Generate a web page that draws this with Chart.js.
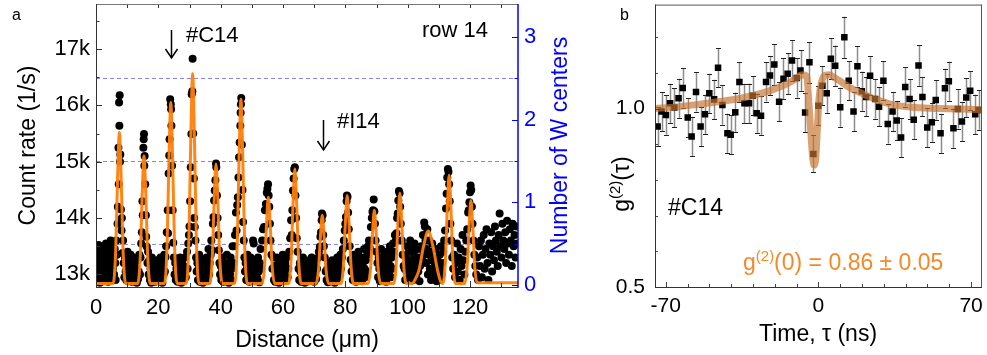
<!DOCTYPE html>
<html><head><meta charset="utf-8">
<script src="https://cdn.jsdelivr.net/npm/chart.js@4"></script>
<style>
html,body{margin:0;padding:0;background:#fff;}
#wrap{position:relative;width:987px;height:355px;overflow:hidden;background:#fff;}
canvas{position:absolute;top:0;}
#ca{left:0;} #cb{left:600px;}
</style></head><body>
<div id="wrap"><canvas id="ca" width="600" height="355"></canvas><canvas id="cb" width="387" height="355"></canvas></div>
<script>
// ---------- Panel a data ----------
const distTicks = [0,10,20,30,40,50,60,70,80,90,100,110,120,130];
const distLabels = [0,20,40,60,80,100,120];
const countTicks = [13,13.5,14,14.5,15,15.5,16,16.5,17,17.5];   // in k (1/s)
const wTicks = [0,0.5,1,1.5,2,2.5,3];
const thresholdLevels = [0.5,1.5,2.5];
const markC14 = 24.0, markI14 = 72.7;

// measured scan: [distance µm, count rate k/s]
const scan = [
[0.2,13.45],[0.3,13.1],[0.5,12.9],[0.6,13.3],[0.8,13.52],[0.9,13.0],[1.1,13.2],[1.2,12.85],[1.4,13.4],[1.5,13.05],[1.7,13.25],[1.8,13.5],[2.0,12.95],[2.1,13.15],[2.3,13.35],[2.4,12.88],[2.6,13.1],[2.7,13.45],[2.9,13.0],[3.0,13.25],[3.2,13.55],[3.3,12.9],[3.5,13.15],[3.6,13.4],[3.8,13.05],[3.9,12.87],[4.1,13.3],[4.2,13.5],[4.4,13.1],[4.5,12.95],[4.7,13.6],[4.8,13.2],[5.0,13.4],[5.1,12.9],[5.3,13.55],[5.4,13.1],[5.6,13.3],[5.8,13.0],[6.0,13.45],[6.2,13.2],[6.3,12.9],
[6.5,13.6],[6.7,13.35],[6.9,13.9],[7.0,14.2],[7.2,15.25],[7.3,14.6],[7.4,16.05],[7.5,15.64],[7.6,16.18],[7.7,15.0],[7.8,15.13],[8.0,14.15],[8.2,13.78],[8.3,14.0],[8.5,13.38],[8.7,13.6],[8.9,13.2],[9.1,12.95],[9.3,13.3],[9.5,13.05],
[9.7,12.9],[9.9,13.15],[10.1,13.4],[10.3,12.88],[10.5,13.1],[10.7,13.25],[10.9,12.95],[11.1,13.35],[11.3,13.05],[11.5,12.87],[11.7,13.2],[11.9,13.0],[12.1,13.3],[12.3,12.9],[12.5,13.15],[12.7,12.95],[12.9,13.1],[13.1,12.85],[13.3,13.25],[13.5,12.92],[13.7,13.05],[13.9,13.35],[14.1,13.0],
[14.3,13.3],[14.5,13.55],[14.7,13.75],[14.9,14.3],[15.0,14.05],[15.2,15.25],[15.3,15.4],[15.4,15.49],[15.5,14.93],[15.6,15.1],[15.8,14.6],[16.0,14.05],[16.1,13.67],[16.3,13.49],[16.5,13.2],[16.7,13.4],[16.9,13.0],
[17.1,13.25],[17.3,12.9],[17.5,13.1],[17.7,12.85],[17.9,13.3],[18.1,13.0],[18.3,12.92],[18.5,13.2],[18.7,13.05],[18.9,12.87],[19.1,13.15],[19.3,12.95],[19.5,13.25],[19.7,12.9],[19.9,13.1],[20.1,12.88],[20.3,13.2],[20.5,13.0],[20.7,13.3],[20.9,12.95],[21.1,13.1],[21.3,12.85],[21.5,13.2],[21.7,13.0],[21.9,13.35],
[22.1,13.05],[22.3,13.31],[22.5,13.5],[22.7,13.75],[23.0,14.14],[23.1,13.73],[23.3,14.79],[23.5,15.11],[23.6,15.4],[23.8,16.11],[24.0,16.02],[24.1,15.93],[24.2,15.64],[24.4,14.93],[24.6,14.14],[24.8,13.56],[25.0,13.3],[25.2,13.0],[25.4,13.2],
[25.6,12.9],[25.8,13.1],[26.0,13.25],[26.2,12.87],[26.4,13.05],[26.6,13.15],[26.8,12.93],[27.0,13.3],[27.2,13.0],[27.4,12.85],[27.6,13.2],[27.8,13.05],[28.0,12.9],[28.2,13.15],[28.4,13.0],[28.6,13.3],[28.8,12.95],[29.0,13.1],[29.2,13.4],
[29.4,13.1],[29.6,13.55],[29.8,13.7],[30.0,13.85],[30.2,14.3],[30.4,14.9],[30.6,15.49],[30.7,16.2],[30.9,16.25],[31.0,16.83],[31.2,15.5],[31.4,14.7],[31.5,14.0],[31.7,13.84],[31.9,13.6],[32.1,13.3],[32.3,13.05],
[32.5,13.2],[32.7,12.9],[32.9,13.1],[33.1,13.35],[33.3,12.87],[33.5,13.0],[33.7,13.2],[33.9,12.95],[34.1,13.1],[34.3,12.85],[34.5,13.25],[34.7,13.05],[34.9,12.9],[35.1,13.15],[35.3,13.0],[35.5,13.3],[35.7,12.88],[35.9,13.1],[36.1,13.45],[36.3,13.0],[36.5,13.2],
[36.8,13.35],[37.0,13.6],[37.3,13.43],[37.5,13.9],[37.7,14.02],[37.9,14.31],[38.1,14.49],[38.3,14.67],[38.5,14.97],[38.6,14.9],[38.8,14.4],[39.0,14.0],[39.2,13.7],[39.4,13.43],[39.6,13.2],[39.8,13.0],
[40.0,13.15],[40.2,12.9],[40.4,13.05],[40.6,13.3],[40.8,12.87],[41.0,13.1],[41.2,13.0],[41.4,13.2],[41.6,12.92],[41.8,13.1],[42.0,13.35],[42.2,12.95],[42.4,13.05],[42.6,12.85],[42.8,13.2],[43.0,13.0],[43.2,13.3],[43.4,12.9],[43.6,13.1],[43.8,13.5],[44.0,13.2],
[44.3,13.5],[44.6,13.7],[44.9,14.1],[45.1,13.78],[45.3,14.23],[45.5,14.37],[45.7,14.72],[45.9,15.08],[46.1,15.34],[46.3,15.64],[46.4,15.87],[46.5,16.02],[46.6,16.13],[46.8,15.3],[47.0,14.5],[47.2,13.93],[47.4,13.6],[47.6,13.3],[47.8,13.05],
[48.0,13.2],[48.2,12.9],[48.4,13.1],[48.6,13.35],[48.8,12.95],[49.0,13.15],[49.2,12.87],[49.4,13.05],[49.6,13.3],[49.8,13.0],[50.0,12.9],[50.2,13.2],[50.4,13.6],[50.6,13.55],[50.8,13.1],[51.0,12.88],[51.2,13.25],[51.4,13.0],[51.6,13.15],[51.8,12.93],[52.0,13.3],[52.2,13.05],[52.4,12.86],[52.6,13.2],[52.8,13.45],
[53.0,13.1],[53.3,13.6],[53.6,13.8],[53.9,13.84],[54.2,14.14],[54.5,14.25],[54.8,14.45],[55.0,14.52],[55.2,14.6],[55.4,14.4],[55.6,14.2],[55.8,13.9],[56.0,13.6],[56.3,13.35],[56.6,13.1],
[56.9,13.3],[57.1,12.9],[57.3,13.15],[57.5,12.87],[57.7,13.05],[57.9,13.3],[58.1,12.95],[58.3,13.1],[58.5,13.2],[58.7,12.85],[58.9,13.05],[59.1,13.25],[59.3,12.9],[59.5,13.1],[59.7,13.0],[59.9,13.35],[60.1,12.88],[60.3,13.15],[60.5,13.0],[60.7,13.2],[60.9,12.92],[61.1,13.1],[61.3,13.3],[61.5,12.95],[61.7,13.1],
[62.0,13.4],[62.3,13.64],[62.6,13.96],[62.8,13.7],[63.0,14.14],[63.2,14.49],[63.4,14.7],[63.6,14.87],[63.8,14.9],[64.0,14.4],[64.2,14.0],[64.4,13.64],[64.7,13.4],[65.0,13.1],
[65.2,12.9],[65.4,13.2],[65.6,13.05],[65.8,12.87],[66.0,13.15],[66.2,13.0],[66.4,13.3],[66.6,12.92],[66.8,13.1],[67.0,12.85],[67.2,13.2],[67.4,13.05],[67.6,12.9],[67.8,13.15],[68.0,13.0],[68.2,12.88],[68.4,13.25],[68.6,13.05],[68.8,12.9],[69.0,13.1],[69.2,13.3],[69.4,12.95],[69.6,13.15],[69.8,13.0],[70.0,12.87],[70.2,13.2],[70.4,13.05],[70.6,12.92],
[70.9,13.1],[71.2,13.29],[71.5,13.4],[71.8,13.49],[72.0,13.67],[72.2,13.75],[72.4,13.96],[72.5,14.08],[72.7,14.05],[72.9,13.7],[73.1,13.5],[73.4,13.3],[73.7,13.05],
[74.0,12.9],[74.2,13.1],[74.4,12.86],[74.6,13.2],[74.8,13.0],[75.0,12.92],[75.2,13.15],[75.4,12.88],[75.6,13.05],[75.8,13.25],[76.0,12.9],[76.2,13.1],[76.4,13.0],[76.6,12.85],[76.8,13.2],[77.0,13.05],[77.2,12.9],[77.4,13.3],[77.6,13.1],[77.8,12.95],[78.0,13.2],[78.2,13.0],[78.4,13.35],[78.6,13.1],
[78.9,13.3],[79.2,13.45],[79.5,13.6],[79.8,13.78],[80.0,13.9],[80.2,14.02],[80.4,14.3],[80.5,14.4],[80.7,14.38],[80.9,14.1],[81.1,13.8],[81.4,13.5],[81.7,13.26],[82.0,13.05],
[82.2,13.2],[82.4,12.9],[82.6,13.1],[82.8,13.35],[83.0,12.95],[83.2,13.15],[83.4,12.87],[83.6,13.05],[83.8,13.25],[84.0,13.0],[84.2,13.4],[84.4,13.15],[84.6,12.9],[84.8,13.1],[85.0,13.3],[85.2,13.0],[85.4,12.88],[85.6,13.2],[85.8,13.05],[86.0,13.45],[86.2,13.1],[86.4,12.95],[86.6,13.25],[86.8,13.05],[87.0,13.35],
[87.3,13.5],[87.6,13.6],[87.9,13.46],[88.2,13.84],[88.5,14.0],[88.7,14.11],[88.9,14.14],[89.1,14.33],[89.3,14.12],[89.5,13.9],[89.7,13.6],[90.0,13.4],[90.3,13.2],
[90.5,12.95],[90.7,13.3],[90.9,13.1],[91.1,12.88],[91.3,13.2],[91.5,13.45],[91.7,13.05],[91.9,13.3],[92.1,12.92],[92.3,13.15],[92.5,13.35],[92.7,13.0],[92.9,13.2],[93.1,12.87],[93.3,13.1],[93.5,13.4],[93.7,13.05],[93.9,13.25],[94.1,13.0],[94.3,13.5],[94.5,13.15],[94.7,12.95],[94.9,13.3],[95.1,13.1],[95.3,13.55],
[95.6,13.4],[95.9,13.7],[96.2,13.6],[96.4,13.73],[96.6,14.0],[96.8,14.08],[97.0,14.31],[97.2,14.48],[97.4,14.44],[97.6,14.2],[97.8,13.9],[98.1,13.6],[98.4,13.35],[98.7,13.15],
[99.0,13.1],[99.2,12.9],[99.4,13.3],[99.6,13.05],[99.8,13.5],[100.0,13.2],[100.2,12.95],[100.4,13.4],[100.6,13.1],[100.8,13.6],[101.0,13.25],[101.2,13.0],[101.4,13.45],[101.6,13.15],[101.8,12.9],[102.0,13.35],[102.2,13.55],[102.4,13.1],[102.6,13.3],[102.8,12.95],[103.0,13.2],[103.2,13.45],[103.4,13.05],[103.6,13.3],[103.8,12.88],[104.0,13.15],
[104.3,13.5],[104.6,13.3],[104.9,13.7],[105.1,13.4],[105.3,13.92],[105.5,13.85],[105.7,13.6],[105.9,13.2],[106.1,13.45],[106.3,13.8],[106.5,13.0],[106.7,13.35],[106.9,13.6],[107.1,13.1],[107.3,13.4],[107.5,12.9],[107.7,13.25],[107.9,13.55],[108.1,13.05],[108.3,13.3],[108.5,12.95],[108.7,13.2],[108.9,13.45],[109.1,13.1],[109.3,12.88],[109.5,13.3],[109.7,13.05],[109.9,13.2],[110.1,12.9],[110.3,13.35],[110.5,13.1],[110.7,13.5],[110.9,13.0],[111.1,13.2],
[111.4,13.4],[111.7,13.6],[112.0,13.78],[112.3,14.17],[112.5,14.43],[112.7,14.72],[112.9,14.87],[113.1,14.82],[113.3,14.6],[113.5,14.3],[113.7,13.9],[114.0,13.6],[114.3,13.3],[114.6,13.1],
[114.9,13.35],[115.2,12.95],[115.5,13.2],[115.8,13.55],[116.1,13.05],[116.4,13.3],[116.7,12.9],[117.0,13.45],[117.3,13.15],[117.6,13.7],[117.9,13.25],[118.2,13.0],[118.5,13.4],
[118.8,13.6],[119.1,13.8],[119.4,14.1],[119.6,14.14],[119.8,14.28],[120.0,14.46],[120.2,14.58],[120.4,14.5],[120.6,14.2],[120.8,13.9],[121.1,13.6],[121.4,13.35],[121.7,13.15],
[122.0,13.0],[122.3,13.3],[122.6,12.9],[122.9,13.5],[123.2,13.15],[123.5,13.6],[123.8,12.95],[124.1,13.35],[124.4,13.7],[124.7,13.1],[125.0,13.45],[125.3,13.8],[125.6,13.2],[125.9,12.9],[126.2,13.55],[126.5,13.35],[126.8,13.75],[127.1,13.05],[127.4,13.5],[127.7,13.25],[128.0,13.85],[128.3,13.6],[128.6,13.4],[128.9,13.15],[129.2,13.7],[129.5,14.08],[129.8,13.5],[130.1,13.3],[130.4,13.9],[130.7,13.6],[131.0,13.45],[131.3,13.75],[131.6,13.2],[131.9,13.95],[132.2,13.55],[132.5,13.35],[132.8,13.8],[133.1,13.6],[133.4,13.15],[133.7,13.9],[134.0,13.5],[134.3,13.7],[134.6,13.3],[134.9,13.85],[135.2,13.55]
];

// fitted profile: [distance µm, count rate k/s]
const fitA = [
[0,12.84],[5.5,12.84],[6.3,13.40],[6.9,14.66],[7.5,15.52],[8.1,14.66],[8.7,13.40],[9.5,12.84],
[13.4,12.84],[14.2,13.31],[14.8,14.38],[15.4,15.10],[16.0,14.38],[16.6,13.31],[17.4,12.84],
[22.0,12.84],[22.8,13.51],[23.4,15.02],[24.0,16.05],[24.6,15.02],[25.2,13.51],[26.0,12.84],
[29.0,12.84],[29.8,13.62],[30.4,15.37],[31.0,16.56],[31.6,15.37],[32.2,13.62],[33.0,12.84],
[36.5,12.84],[37.3,13.29],[37.9,14.28],[38.5,14.96],[39.1,14.28],[39.7,13.29],[40.5,12.84],
[44.5,12.84],[45.3,13.53],[45.9,15.06],[46.5,16.11],[47.1,15.06],[47.7,13.53],[48.5,12.84],
[53.3,12.84],[54.1,13.16],[54.7,13.88],[55.3,14.37],[55.9,13.88],[56.5,13.16],[57.3,12.84],
[61.8,12.84],[62.6,13.27],[63.2,14.22],[63.8,14.87],[64.4,14.22],[65.0,13.27],[65.8,12.84],
[70.6,12.84],[71.4,13.09],[72.0,13.66],[72.6,14.05],[73.2,13.66],[73.8,13.09],[74.6,12.84],
[78.6,12.84],[79.4,13.17],[80.0,13.90],[80.6,14.40],[81.2,13.90],[81.8,13.17],[82.6,12.84],
[87.3,12.84],[88.1,13.11],[88.7,13.72],[89.3,14.14],[89.9,13.72],[90.5,13.11],[91.3,12.84],
[95.5,12.84],[96.3,13.18],[96.9,13.93],[97.5,14.44],[98.1,13.93],[98.7,13.18],[99.5,12.84],
[101.6,12.84],[102.1,12.88],[103.6,13.07],[105.1,13.50],[106.6,13.77],[108.1,13.50],[109.6,13.07],[110.6,12.87],
[111.3,12.84],[112.1,13.24],[112.7,14.15],[113.3,14.76],[113.9,14.15],[114.5,13.24],[115.3,12.84],
[118.3,12.84],[119.1,13.15],[119.7,13.84],[120.3,14.31],[120.9,13.84],[121.5,13.15],[122.3,12.85],[135.4,12.85]
];

// ---------- Panel b data ----------
const tauTicks = [-70,-60,-50,-40,-30,-20,-10,0,10,20,30,40,50,60,70];
const tauLabels = [-70,0,70];
const gTicks = [0.5,0.6,0.7,0.8,0.9,1.0,1.1,1.2];
const gLabels = [0.5,1.0];
const tauB = [-73.7,-71.9,-69.9,-68.0,-66.0,-64.1,-62.2,-59.9,-58.1,-56.1,-54.0,-52.0,-50.0,-47.8,-46.0,-44.0,-41.7,-40.2,-38.1,-36.2,-33.9,-31.8,-30.1,-28.3,-26.3,-24.0,-22.2,-20.2,-18.0,-16.0,-14.1,-12.1,-9.9,-8.2,-6.1,-4.1,-2.3,0.0,1.85,3.8,5.7,7.7,10.0,11.9,13.9,16.1,17.9,19.9,21.9,23.7,26.0,27.8,29.8,31.8,34.0,35.9,37.9,39.8,41.8,43.7,45.9,47.7,49.9,52.0,53.8,56.0,58.0,59.8,61.9,63.9,65.8,67.8,69.6,71.9,73.4];
const g2B = [0.950,0.992,0.982,1.015,1.003,1.029,1.058,0.975,0.922,1.047,0.950,0.984,1.043,1.026,1.115,1.010,0.931,0.927,0.990,1.075,1.015,1.015,1.036,0.987,0.980,1.075,1.093,1.124,1.019,1.084,1.098,1.135,1.086,1.107,0.989,1.130,0.873,1.008,1.064,1.043,1.140,1.120,1.004,1.200,1.078,0.992,1.119,1.049,1.033,1.092,1.027,1.005,1.078,0.957,0.992,0.967,0.919,1.061,1.027,0.969,1.121,1.033,0.947,0.962,1.024,0.931,1.057,1.077,0.945,0.999,0.964,1.031,1.050,0.984,0.996];
const errB = [0.055,0.055,0.055,0.055,0.055,0.055,0.055,0.055,0.055,0.055,0.055,0.055,0.055,0.055,0.055,0.055,0.055,0.055,0.055,0.055,0.055,0.055,0.055,0.055,0.055,0.055,0.055,0.057,0.055,0.057,0.057,0.057,0.055,0.057,0.055,0.057,0.052,0.055,0.055,0.055,0.057,0.057,0.055,0.058,0.055,0.055,0.057,0.055,0.055,0.055,0.055,0.055,0.055,0.055,0.055,0.055,0.055,0.055,0.055,0.055,0.057,0.055,0.055,0.055,0.055,0.055,0.055,0.055,0.055,0.055,0.055,0.055,0.055,0.055,0.055];
const fitTau = [-75,-65,-55,-45,-35,-25,-18,-13,-9.9,-8,-6.5,-5.3,-4.4,-3.5,-2.6,-2.0,-1.2,-0.46,0.3,1.5,3.1,5.0,7.6,10,13.8,19.9,26,33.6,44.3,59.6,75];
const fitG = [1.000,1.005,1.012,1.020,1.030,1.045,1.060,1.074,1.086,1.094,1.094,1.089,1.020,0.936,0.862,0.842,0.862,0.945,1.029,1.075,1.094,1.095,1.086,1.077,1.061,1.043,1.027,1.012,1.003,1.000,0.997];

// ---------- helpers ----------
const FF = '"Liberation Sans", Arial, Helvetica, sans-serif';
Chart.defaults.font.family = FF;
function seg(ctx,x0,y0,x1,y1){ctx.beginPath();ctx.moveTo(x0,y0);ctx.lineTo(x1,y1);ctx.stroke();}
function txt(ctx,s,x,y,size,color,align,rot){
  ctx.save();ctx.translate(x,y);if(rot)ctx.rotate(rot);
  ctx.font=size+'px '+FF;ctx.fillStyle=color;ctx.textAlign=align||'left';ctx.textBaseline='alphabetic';
  ctx.fillText(s,0,0);ctx.restore();
}
function rich(ctx,parts,x,y,color,align,rot){
  ctx.save();ctx.translate(x,y);if(rot)ctx.rotate(rot);
  ctx.fillStyle=color;ctx.textBaseline='alphabetic';ctx.textAlign='left';
  let w=0;for(const p of parts){ctx.font=p[1]+'px '+FF;w+=ctx.measureText(p[0]).width;}
  let cx=align==='center'?-w/2:0;
  for(const p of parts){ctx.font=p[1]+'px '+FF;ctx.fillText(p[0],cx,-p[2]);cx+=ctx.measureText(p[0]).width;}
  ctx.restore();
}
function arrowDown(ctx,x,y0,y1){
  ctx.save();ctx.strokeStyle='#000';ctx.lineWidth=1.5;
  seg(ctx,x,y0,x,y1);
  ctx.beginPath();ctx.moveTo(x-6,y1-9);ctx.lineTo(x,y1);ctx.lineTo(x+6,y1-9);ctx.stroke();
  ctx.restore();
}
const hp = v => Math.round(v)+0.5;
function fixV(w){return s=>{s.width=w;s.paddingTop=0;s.paddingBottom=0;};}
function fixH(h){return s=>{s.height=h;s.paddingLeft=0;s.paddingRight=0;};}

// ---------- Panel a ----------
const plugA = {
  id:'plugA',
  beforeDatasetsDraw(chart){
    const {ctx,chartArea:ca,scales}=chart;
    ctx.save();ctx.strokeStyle='rgba(115,115,225,0.85)';ctx.lineWidth=1;ctx.setLineDash([4,3]);
    for(const v of thresholdLevels){const y=hp(scales.yR.getPixelForValue(v));seg(ctx,ca.left,y,ca.right,y);}
    ctx.restore();
  },
  afterDraw(chart){
    const {ctx,chartArea:ca,scales:{x,y,yR}}=chart;
    ctx.save();ctx.lineWidth=1;
    ctx.strokeStyle='#333';
    for(const v of distTicks){const px=hp(x.getPixelForValue(v));const L=distLabels.includes(v)?6:4;
      seg(ctx,px,ca.bottom,px,ca.bottom-L);seg(ctx,px,ca.top,px,ca.top+4);}
    for(const v of countTicks){const py=hp(y.getPixelForValue(v));const L=Number.isInteger(v)?6:3.5;seg(ctx,ca.left,py,ca.left+L,py);}
    ctx.strokeStyle='#0000ff';
    for(const v of wTicks){const py=hp(yR.getPixelForValue(v));const L=Number.isInteger(v)?6:3.5;seg(ctx,ca.right,py,ca.right-L,py);}
    ctx.strokeStyle='#777';seg(ctx,ca.left,ca.top+0.5,ca.right,ca.top+0.5);
    ctx.strokeStyle='#333';seg(ctx,ca.left+0.5,ca.top,ca.left+0.5,ca.bottom);
    seg(ctx,ca.left,ca.bottom+0.5,ca.right,ca.bottom+0.5);
    ctx.strokeStyle='#0000ff';ctx.lineWidth=1.5;seg(ctx,ca.right,ca.top,ca.right,ca.bottom+1);
    ctx.restore();
    txt(ctx,'Count rate (1/s)',35,(ca.top+ca.bottom)/2,23,'#000','center',-Math.PI/2);
    txt(ctx,'Number of W centers',567,(ca.top+ca.bottom)/2,23,'#0000ff','center',-Math.PI/2);
    txt(ctx,'Distance (\u03bcm)',(ca.left+ca.right)/2,347,23,'#000','center');
    txt(ctx,'a',12,20,16,'#000','left');
    const xc=x.getPixelForValue(markC14), xi=x.getPixelForValue(markI14);
    arrowDown(ctx,Math.round(xc)+0.5,30,58);
    arrowDown(ctx,Math.round(xi)+0.5,120,150);
    txt(ctx,'#C14',186,42,22,'#000','left');
    txt(ctx,'#I14',337,128,22,'#000','left');
    txt(ctx,'row 14',422,37,22,'#000','left');
  }
};

new Chart(document.getElementById('ca'),{
  type:'scatter',
  data:{datasets:[
    {label:'fit',data:fitA.map(p=>({x:p[0],y:p[1]})),showLine:true,borderColor:'rgba(255,128,10,0.95)',backgroundColor:'rgba(0,0,0,0)',borderWidth:3,pointRadius:0,cubicInterpolationMode:'monotone',yAxisID:'y'},
    {label:'scan',data:scan.map(p=>({x:p[0],y:p[1]})),pointRadius:4,pointBackgroundColor:'#000',pointBorderWidth:0,pointBorderColor:'#000',yAxisID:'y'}
  ]},
  options:{
    responsive:false,animation:false,devicePixelRatio:1,
    layout:{padding:{top:2,left:0,right:0,bottom:0}},
    plugins:{legend:{display:false},tooltip:{enabled:false}},
    scales:{
      x:{type:'linear',position:'bottom',min:0,max:135.4,
        afterBuildTicks:s=>{s.ticks=distTicks.map(v=>({value:v}));},
        afterFit:fixH(68),
        grid:{display:false,drawTicks:false},border:{display:false},
        ticks:{autoSkip:false,maxRotation:0,padding:8,color:'#000',font:{size:22},callback:v=>distLabels.includes(v)?String(v):''}},
      y:{type:'linear',position:'left',min:12.776,max:17.80,
        afterBuildTicks:s=>{s.ticks=countTicks.map(v=>({value:v}));},
        afterFit:fixV(96),
        grid:{display:false,drawTicks:false},border:{display:false},
        ticks:{autoSkip:false,padding:6,color:'#000',font:{size:22},callback:v=>Number.isInteger(v)?v+'k':''}},
      yR:{type:'linear',position:'right',min:-0.024,max:3.396,
        afterBuildTicks:s=>{s.ticks=wTicks.map(v=>({value:v}));},
        afterFit:fixV(82),
        grid:{display:false,drawTicks:false},border:{display:false},
        ticks:{autoSkip:false,padding:6,color:'#0000ff',font:{size:22},callback:v=>Number.isInteger(v)?String(v):''}}
    }
  },
  plugins:[plugA]
});

// ---------- Panel b ----------
const plugB = {
  id:'plugB',
  beforeDatasetsDraw(chart){
    const {ctx,scales:{x,y}}=chart;
    ctx.save();
    for(let i=0;i<tauB.length;i++){
      const px=hp(x.getPixelForValue(tauB[i]));
      const y0=y.getPixelForValue(g2B[i]-errB[i]), y1=y.getPixelForValue(g2B[i]+errB[i]);
      ctx.strokeStyle='#8c8c8c';ctx.lineWidth=1.5;seg(ctx,px,y0,px,y1);
      ctx.strokeStyle='#222';ctx.lineWidth=1;
      seg(ctx,px-2.5,hp(y0),px+2.5,hp(y0));seg(ctx,px-2.5,hp(y1),px+2.5,hp(y1));
    }
    ctx.restore();
  },
  afterDraw(chart){
    const {ctx,chartArea:ca,scales:{x,y}}=chart;
    ctx.save();ctx.lineWidth=1;ctx.strokeStyle='#444';
    for(const v of tauTicks){const px=hp(x.getPixelForValue(v));const L=tauLabels.includes(v)?5:3;seg(ctx,px,ca.bottom,px,ca.bottom-L);}
    for(const v of gTicks){const py=hp(y.getPixelForValue(v));const L=gLabels.includes(v)?5:3;seg(ctx,ca.left,py,ca.left+L,py);}
    ctx.strokeStyle='#555';
    seg(ctx,ca.left,ca.top+0.5,ca.right,ca.top+0.5);
    seg(ctx,ca.right-0.5,ca.top,ca.right-0.5,ca.bottom);
    ctx.strokeStyle='#333';
    seg(ctx,ca.left+0.5,ca.top,ca.left+0.5,ca.bottom+1);
    seg(ctx,ca.left,ca.bottom+0.5,ca.right,ca.bottom+0.5);
    ctx.restore();
    rich(ctx,[['g',23,0],['(2)',15,9],['(\u03c4)',23,0]],29,184,'#000','center',-Math.PI/2);
    txt(ctx,'Time, \u03c4 (ns)',218,341,23,'#000','center');
    txt(ctx,'b',20,20,16,'#000','left');
    txt(ctx,'#C14',68,215,23,'#000','left');
    rich(ctx,[['g',23,0],['(2)',15,9],['(0) = 0.86 \u00b1 0.05',23,0]],143,270,'#f28a2a','left');
  }
};

new Chart(document.getElementById('cb'),{
  type:'scatter',
  data:{datasets:[
    {label:'fit',data:fitTau.map((t,i)=>({x:t,y:fitG[i]})),showLine:true,borderColor:'rgba(196,116,48,0.68)',backgroundColor:'rgba(0,0,0,0)',borderWidth:7,pointRadius:0,cubicInterpolationMode:'monotone',borderCapStyle:'round',borderJoinStyle:'round'},
    {label:'g2',data:tauB.map((t,i)=>({x:t,y:g2B[i]})),pointStyle:'rect',pointRadius:4.6,pointBackgroundColor:'#000',pointBorderWidth:0,pointBorderColor:'#000'}
  ]},
  options:{
    responsive:false,animation:false,devicePixelRatio:1,
    layout:{padding:{top:2,left:0,right:5,bottom:0}},
    plugins:{legend:{display:false},tooltip:{enabled:false}},
    scales:{
      x:{type:'linear',position:'bottom',min:-74.9,max:75.0,
        afterBuildTicks:s=>{s.ticks=tauTicks.map(v=>({value:v}));},
        afterFit:fixH(68),
        grid:{display:false,drawTicks:false},border:{display:false},
        ticks:{autoSkip:false,maxRotation:0,padding:7,color:'#000',font:{size:21},callback:v=>tauLabels.includes(v)?String(v):''}},
      y:{type:'linear',position:'left',min:0.5,max:1.2917,
        afterBuildTicks:s=>{s.ticks=gTicks.map(v=>({value:v}));},
        afterFit:fixV(55),
        grid:{display:false,drawTicks:false},border:{display:false},
        ticks:{autoSkip:false,padding:10,color:'#000',font:{size:21},callback:v=>gLabels.includes(v)?v.toFixed(1):''}}
    }
  },
  plugins:[plugB]
});
</script>
</body></html>
